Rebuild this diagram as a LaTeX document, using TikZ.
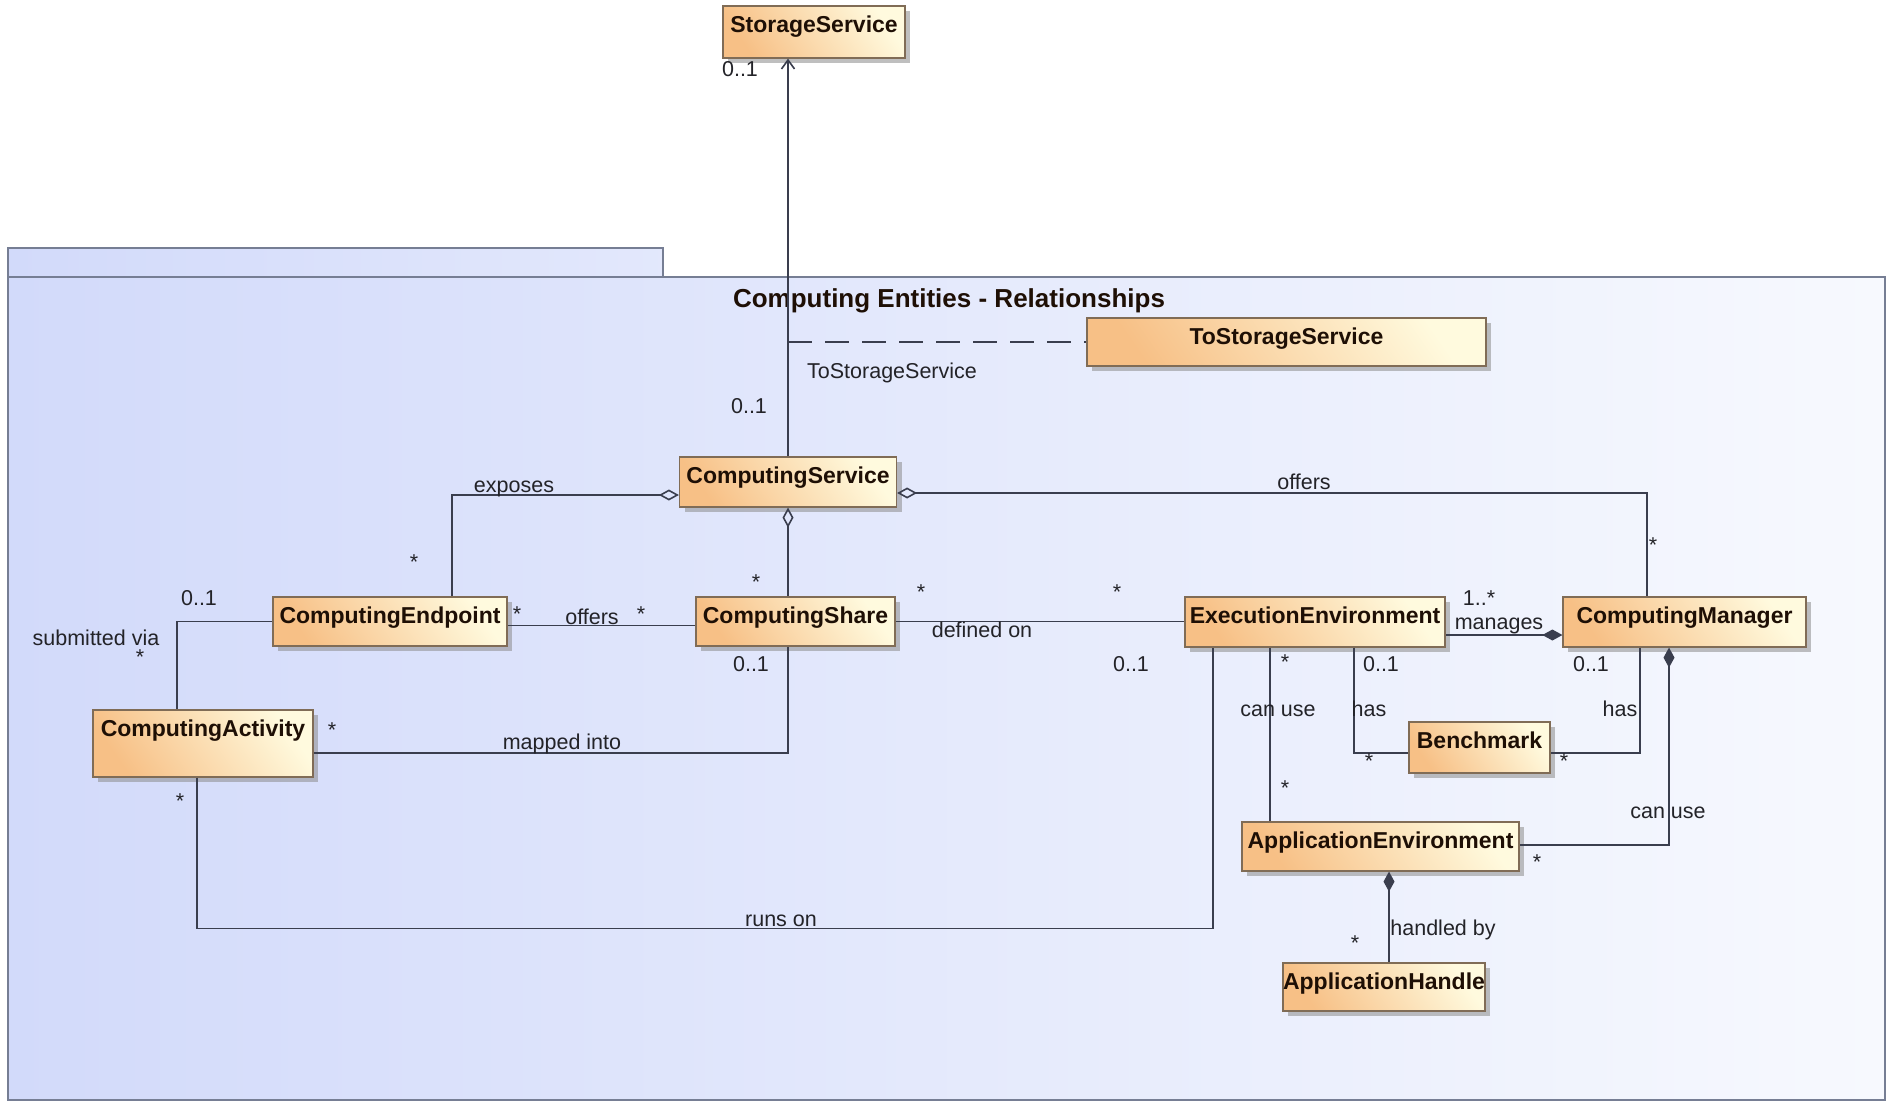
\documentclass[tikz,border=0pt]{standalone}
\usepackage{fontspec}
\setmainfont{Liberation Sans}
\usetikzlibrary{arrows.meta,shadows}

\definecolor{frameL}{RGB}{210,218,250}
\definecolor{frameR}{RGB}{247,249,254}
\definecolor{frameEdge}{RGB}{118,126,148}
\definecolor{boxLo}{RGB}{247,192,134}
\definecolor{boxHi}{RGB}{255,250,222}
\definecolor{boxEdge}{RGB}{128,108,86}
\definecolor{wireC}{RGB}{58,62,78}
\definecolor{ink}{RGB}{35,35,40}
\definecolor{nameInk}{RGB}{30,15,5}

\tikzset{
  cls/.style={draw=boxEdge, line width=1.2pt, rectangle, inner sep=0pt,
    top color=boxHi, bottom color=boxLo, shading angle=-55,
    drop shadow={shadow xshift=5pt, shadow yshift=-5pt, fill=black!45, opacity=0.55},
    text height=26pt, font=\fontsize{23}{27}\selectfont\bfseries, text=nameInk},
  lbl/.style={inner sep=0pt, text height=15pt, text depth=0pt,
    font=\fontsize{21.5}{25}\selectfont, text=ink},
  mult/.style={inner sep=0pt, font=\fontsize{21.5}{25}\selectfont, text=ink},
  wire/.style={draw=wireC, line width=1.6pt},
  agg/.style={{Diamond[open, length=20pt, width=11pt]}-},
  comp/.style={{Diamond[length=20pt, width=11pt]}-},
  nav/.style={-{Straight Barb[length=9pt, width=13pt]}}
}

\begin{document}
\begin{tikzpicture}[x=1pt,y=-1pt]
\useasboundingbox (0,0) rectangle (1887,1103);
\fill[white] (0,0) rectangle (1887,1103);

% package frame with its tab
\shadedraw[left color=frameL, right color=frameL!55!frameR, draw=frameEdge, line width=1.5pt]
  (8,248) rectangle (663,277);
\shadedraw[left color=frameL, right color=frameR, draw=frameEdge, line width=1.5pt]
  (8,277) rectangle (1885,1100);
\node[font=\fontsize{26}{30}\selectfont\bfseries, text=nameInk, inner sep=0pt,
  text height=19pt, text depth=0pt]
  (title) at (949,298) {Computing Entities - Relationships};

% classes
\node[cls, minimum width=182pt, text depth=26pt] (ss)  at (814,32)      {StorageService};
\node[cls, minimum width=399pt, text depth=22pt] (tss) at (1286.5,342)  {ToStorageService};
\node[cls, minimum width=217pt, text depth=24pt] (cs)  at (788,482)     {ComputingService};
\node[cls, minimum width=234pt, text depth=23pt] (ce)  at (390,621.5)   {ComputingEndpoint};
\node[cls, minimum width=199pt, text depth=23pt] (csh) at (795.5,621.5) {ComputingShare};
\node[cls, minimum width=220pt, text depth=41pt] (ca)  at (203,743.5)   {ComputingActivity};
\node[cls, minimum width=260pt, text depth=24pt] (ee)  at (1315,622)    {ExecutionEnvironment};
\node[cls, minimum width=243pt, text depth=24pt] (cm)  at (1684.5,622)  {ComputingManager};
\node[cls, minimum width=141pt, text depth=25pt] (bm)  at (1479.5,747.5){Benchmark};
\node[cls, minimum width=277pt, text depth=23pt] (ae)  at (1380.5,846.5){ApplicationEnvironment};
\node[cls, minimum width=200pt, text depth=22pt] (ah)  at (1384,987)    {ApplicationHandle};

% associations
\draw[wire, nav] (cs.north) -- (cs.north |- ss.south);
\draw[wire, dash pattern=on 24pt off 13pt] (cs.north |- tss.west) -- (tss.west);
\draw[wire, agg] ([yshift=-13pt]cs.west) -| ([xshift=62pt]ce.north);
\draw[wire, agg] ([yshift=-11pt]cs.east) -| ([xshift=-37.5pt]cm.north);
\draw[wire, agg] (cs.south) -- (cs.south |- csh.north);
\draw[wire] ([yshift=-4pt]ce.east) -- ([yshift=-4pt]csh.west);
\draw[wire] (csh.east) -- (csh.east -| ee.west);
\draw[wire] ([yshift=-9.5pt]ca.east) -| (cs.south |- csh.south);
\draw[wire] (ce.west) -| ([xshift=-26pt]ca.north);
\draw[wire] ([xshift=-6pt]ca.south) -- ++(0,151) -| ([xshift=-102pt]ee.south);
\draw[wire, comp] ([yshift=-13pt]cm.west) -- ([yshift=-13pt]ee.east);
\draw[wire] ([xshift=39pt]ee.south) |- ([yshift=-5.5pt]bm.west);
\draw[wire] ([xshift=-44.5pt]cm.south) |- ([yshift=-5.5pt]bm.east);
\draw[wire] ([xshift=-45pt]ee.south) -- ([xshift=-45pt]ee.south |- ae.north);
\draw[wire, comp] ([xshift=-15.5pt]cm.south) |- ([yshift=1.5pt]ae.east);
\draw[wire, comp] ([xshift=8.5pt]ae.south) -- ([xshift=8.5pt]ae.south |- ah.north);

% role names and multiplicities
\node[lbl]  (m1)  at (740,69)   {0..1};
\node[lbl]  (l1)  at (892,371)  {ToStorageService};
\node[lbl]  (m2)  at (749,406)  {0..1};
\node[lbl]  (l2)  at (514,485)  {exposes};
\node[mult] (m3)  at (414,562)  {*};
\node[mult] (m4)  at (517,614)  {*};
\node[lbl]  (l3)  at (592,617)  {offers};
\node[mult] (m5)  at (641,614)  {*};
\node[mult] (m6)  at (756,582)  {*};
\node[mult] (m7)  at (921,592)  {*};
\node[mult] (m8)  at (1117,592) {*};
\node[lbl]  (l4)  at (982,630)  {defined on};
\node[lbl]  (m9)  at (751,664)  {0..1};
\node[lbl]  (m10) at (1131,664) {0..1};
\node[lbl]  (l5)  at (562,742)  {mapped into};
\node[mult] (m11) at (332,730)  {*};
\node[lbl]  (m12) at (199,598)  {0..1};
\node[lbl]  (l6)  at (96,638)   {submitted via};
\node[mult] (m13) at (140,657)  {*};
\node[mult] (m14) at (180,801)  {*};
\node[lbl]  (l7)  at (781,919)  {runs on};
\node[lbl]  (l8)  at (1304,482) {offers};
\node[mult] (m15) at (1653,545) {*};
\node[lbl]  (m16) at (1479,598) {1..*};
\node[lbl]  (l9)  at (1499,622) {manages};
\node[mult] (m17) at (1285,662) {*};
\node[lbl]  (l10) at (1278,709) {can use};
\node[mult] (m18) at (1285,788) {*};
\node[lbl]  (m19) at (1381,664) {0..1};
\node[lbl]  (l11) at (1369,709) {has};
\node[mult] (m20) at (1369,761) {*};
\node[lbl]  (m21) at (1591,664) {0..1};
\node[lbl]  (l12) at (1620,709) {has};
\node[mult] (m22) at (1564,761) {*};
\node[lbl]  (l13) at (1668,811) {can use};
\node[mult] (m23) at (1537,862) {*};
\node[lbl]  (l14) at (1443,928) {handled by};
\node[mult] (m24) at (1355,943) {*};
\end{tikzpicture}
\end{document}
